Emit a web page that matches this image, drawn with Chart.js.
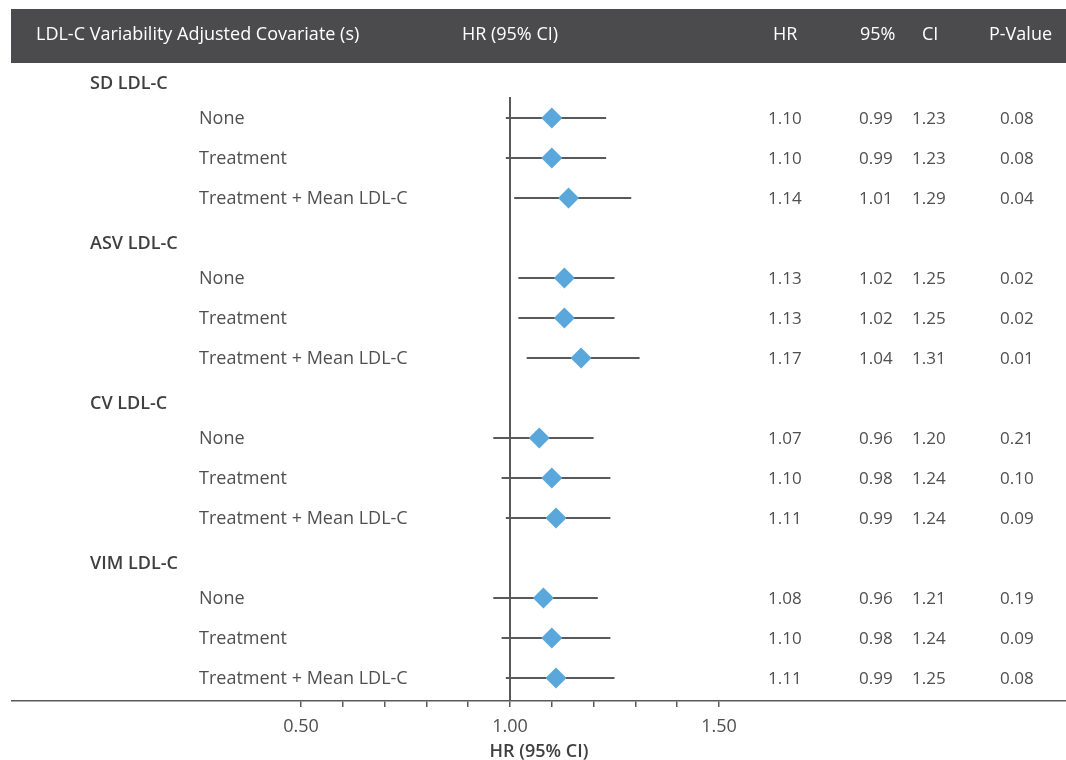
<!DOCTYPE html>
<html>
<head>
<meta charset="utf-8">
<title>LDL-C variability forest plot</title>
<script src="https://cdn.jsdelivr.net/npm/chart.js@4.4.0/dist/chart.umd.min.js"></script>
<style>
    html, body { margin: 0; padding: 0; background: #ffffff; }
    #wrap { width: 1066px; height: 760px; }
</style>
</head>
<body>
<div id="wrap"><canvas id="forestChart" width="1066" height="760"></canvas></div>
<script>
// groups and covariate rows, top to bottom
const GROUPS = ['SD LDL-C', 'ASV LDL-C', 'CV LDL-C', 'VIM LDL-C'];
const COVARIATES = ['None', 'Treatment', 'Treatment + Mean LDL-C'];

// one value per covariate row (4 groups x 3 rows)
const HR = [1.10, 1.10, 1.14, 1.13, 1.13, 1.17, 1.07, 1.10, 1.11, 1.08, 1.10, 1.11];
const CI_LOW = [0.99, 0.99, 1.01, 1.02, 1.02, 1.04, 0.96, 0.98, 0.99, 0.96, 0.98, 0.99];
const CI_HIGH = [1.23, 1.23, 1.29, 1.25, 1.25, 1.31, 1.20, 1.24, 1.24, 1.21, 1.24, 1.25];
const P_VALUES = ['0.08', '0.08', '0.04', '0.02', '0.02', '0.01', '0.21', '0.10', '0.09', '0.19', '0.09', '0.08'];

const X_TICKS = [0.5, 0.6, 0.7, 0.8, 0.9, 1.0, 1.1, 1.2, 1.3, 1.4, 1.5];
const X_LABELS = [0.5, 1.0, 1.5];

const FONT = "'Open Sans', 'Noto Sans', sans-serif";
const TEXT_COLOR = '#4f4f51';
const LINE_COLOR = '#58595b';
const DIAMOND_COLOR = '#5aa7dc';

// row index on the y scale: group header takes one slot, then its 3 rows
function rowOf(i) {
    const g = Math.floor(i / 3);
    return g * 4 + 1 + (i % 3);
}

const datasets = [];

datasets.push({
    label: 'Diamonds',
    type: 'scatter',
    data: HR.map((v, i) => ({ x: v, y: rowOf(i) })),
    pointStyle: 'rectRot',
    pointRadius: 10.5,
    pointHoverRadius: 10.5,
    backgroundColor: DIAMOND_COLOR,
    borderWidth: 0,
    order: 0
});

HR.forEach((v, i) => {
    datasets.push({
        label: 'CI ' + i,
        type: 'line',
        data: [{ x: CI_LOW[i], y: rowOf(i) }, { x: CI_HIGH[i], y: rowOf(i) }],
        borderColor: LINE_COLOR,
        borderWidth: 2,
        pointRadius: 0,
        order: 1
    });
});

datasets.push({
    label: 'Reference',
    type: 'line',
    data: [{ x: 1, y: 0.475 }, { x: 1, y: 15.575 }],
    borderColor: LINE_COLOR,
    borderWidth: 2,
    pointRadius: 0,
    order: 2
});

const tablePlugin = {
    id: 'tableText',
    beforeDraw(chart) {
        const ctx = chart.ctx;
        ctx.save();
        ctx.fillStyle = '#4b4b4d';
        ctx.fillRect(11, 9, 1055, 54);

        ctx.fillStyle = '#ffffff';
        ctx.font = '500 18px ' + FONT;
        ctx.textBaseline = 'middle';
        ctx.textAlign = 'left';
        ctx.fillText('LDL-C Variability Adjusted Covariate (s)', 36, 35);
        ctx.fillText('HR', 773, 35);
        ctx.fillText('95%', 860, 35);
        ctx.fillText('CI', 922, 35);
        ctx.fillText('P-Value', 989, 35);
        ctx.textAlign = 'center';
        ctx.fillText('HR (95% CI)', 510, 35);
        ctx.restore();
    },
    afterDraw(chart) {
        const ctx = chart.ctx;
        const y = chart.scales.y;
        ctx.save();
        ctx.textBaseline = 'middle';
        ctx.textAlign = 'left';

        GROUPS.forEach((g, gi) => {
            ctx.fillStyle = '#3f3f41';
            ctx.font = '600 18px ' + FONT;
            ctx.fillText(g, 90, y.getPixelForValue(gi * 4) + 6);
        });

        HR.forEach((v, i) => {
            const py = y.getPixelForValue(rowOf(i)) + 1;
            ctx.fillStyle = TEXT_COLOR;
            ctx.font = '18px ' + FONT;
            ctx.fillText(COVARIATES[i % 3], 199, py);
            ctx.font = '17px ' + FONT;
            ctx.fillText(v.toFixed(2), 768, py);
            ctx.fillText(CI_LOW[i].toFixed(2), 859, py);
            ctx.fillText(CI_HIGH[i].toFixed(2), 912, py);
            ctx.fillText(P_VALUES[i], 1000, py);
        });
        ctx.restore();
    }
};

new Chart(document.getElementById('forestChart'), {
    type: 'scatter',
    data: { datasets: datasets },
    options: {
        responsive: false,
        animation: false,
        devicePixelRatio: 1,
        layout: { autoPadding: false, padding: { left: 12, right: 0, top: 58, bottom: 0 } },
        plugins: {
            legend: { display: false },
            tooltip: { enabled: false }
        },
        scales: {
            x: {
                type: 'linear',
                min: -0.1914,
                max: 2.3301,
                afterBuildTicks: function(scale) {
                    scale.ticks = X_TICKS.map(v => ({ value: v }));
                },
                afterFit: function(scale) {
                    scale.height = 59;
                },
                border: { display: true, color: LINE_COLOR, width: 1.5 },
                grid: {
                    drawOnChartArea: false,
                    drawTicks: true,
                    tickLength: 6,
                    color: LINE_COLOR,
                    lineWidth: 1.5
                },
                ticks: {
                    autoSkip: false,
                    maxRotation: 0,
                    padding: 9,
                    color: TEXT_COLOR,
                    font: { family: FONT, size: 18 },
                    callback: function(value) {
                        return X_LABELS.some(v => Math.abs(v - value) < 1e-6) ? value.toFixed(2) : '';
                    }
                },
                title: {
                    display: true,
                    text: 'HR (95% CI)',
                    color: '#3f3f41',
                    font: { family: FONT, size: 18, weight: '600', lineHeight: 1 },
                    padding: { top: 0, bottom: -1 }
                }
            },
            y: {
                type: 'linear',
                reverse: true,
                min: -0.5,
                max: 15.575,
                display: false
            }
        }
    },
    plugins: [tablePlugin]
});
</script>
</body>
</html>
